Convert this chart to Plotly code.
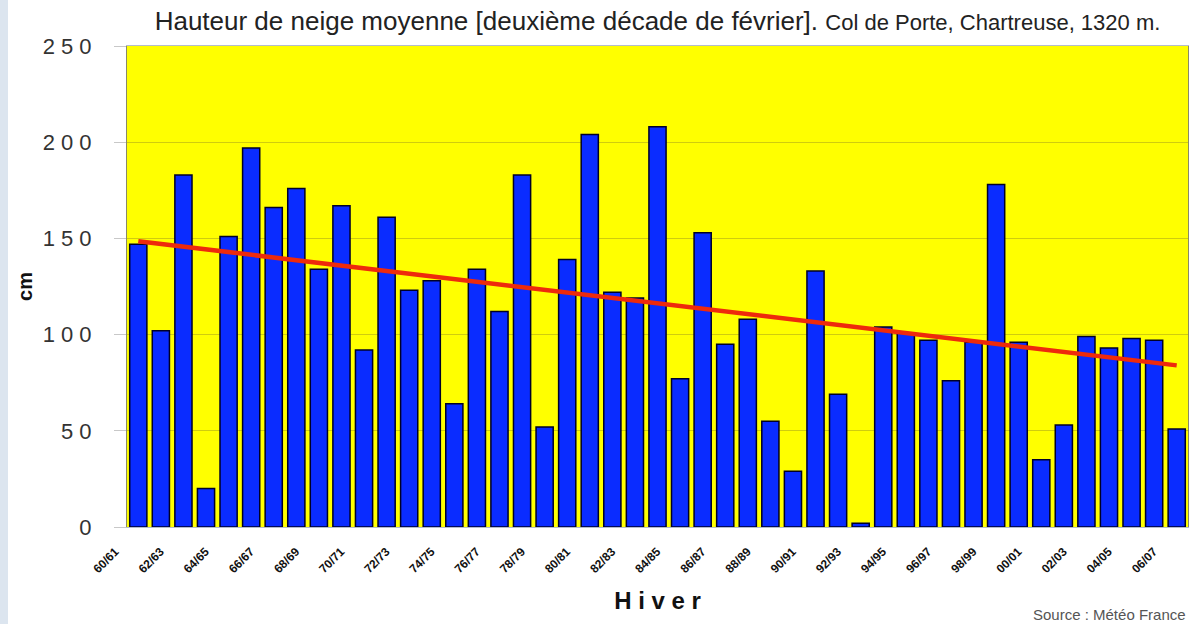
import plotly.graph_objects as go

# ---- data ----
seasons = [
    "60/61", "61/62", "62/63", "63/64", "64/65", "65/66", "66/67", "67/68",
    "68/69", "69/70", "70/71", "71/72", "72/73", "73/74", "74/75", "75/76",
    "76/77", "77/78", "78/79", "79/80", "80/81", "81/82", "82/83", "83/84",
    "84/85", "85/86", "86/87", "87/88", "88/89", "89/90", "90/91", "91/92",
    "92/93", "93/94", "94/95", "95/96", "96/97", "97/98", "98/99", "99/00",
    "00/01", "01/02", "02/03", "03/04", "04/05", "05/06", "06/07",
]
snow_cm = [
    147, 102, 183, 20, 151, 197, 166, 176,
    134, 167, 92, 161, 123, 128, 64, 134,
    112, 183, 52, 139, 204, 122, 119, 208,
    77, 153, 95, 108, 55, 29, 133, 69,
    2, 104, 101, 97, 76, 96, 178, 96,
    35, 53, 99, 93, 98, 97, 51,
]
trend_cm = [148.5, 84.0]          # linear trend, first and last winter
x_tick_labels = seasons[::2]
y_tick_values = [0, 50, 100, 150, 200, 250]

FONT = "Liberation Sans, Arial, Helvetica, sans-serif"

fig = go.Figure()
fig.add_bar(
    x=seasons, y=snow_cm,
    marker=dict(color="#0a2cff", line=dict(color="#000026", width=1.5)),
    hoverinfo="x+y",
)
fig.add_scatter(
    x=[seasons[0], seasons[-1]], y=trend_cm, mode="lines",
    line=dict(color="#ee2a0c", width=4.5), hoverinfo="skip",
)

L, R, T, B = 127, 12, 46, 97
W, H = 1200, 624
pw, ph = W - L - R, H - T - B

fig.update_layout(
    width=W, height=H,
    margin=dict(l=L, r=R, t=T, b=B),
    paper_bgcolor="white",
    plot_bgcolor="#ffff00",
    showlegend=False,
    bargap=0.24,
    font=dict(family=FONT, color="#222"),
    title=dict(
        text="Hauteur de neige moyenne [deuxième décade de février]. "
             "<span style='font-size:22px'>Col de Porte, Chartreuse, 1320 m.</span>",
        font=dict(size=26, color="#222"),
        x=0.5, xanchor="center", xref="paper",
        y=1 - 21 / H, yanchor="middle", yref="container",
    ),
    xaxis=dict(
        type="category",
        tickmode="array", tickvals=x_tick_labels, ticktext=x_tick_labels,
        tickangle=-45,
        tickfont=dict(size=12, color="#111", family=FONT, weight="bold"),
        ticklabelshift=-23,
        ticklabelstandoff=12,
        showgrid=False,
        showline=True, linecolor="#b4bccb", linewidth=1, mirror=True,
        ticks="",
        title=dict(text="H i v e r", font=dict(size=24, color="#111", weight="bold"),
                   standoff=17),
    ),
    yaxis=dict(
        range=[0, 250],
        tickmode="array", tickvals=y_tick_values,
        ticktext=[" ".join(str(v)) for v in y_tick_values],
        tickfont=dict(size=22, color="#333"),
        ticks="outside", ticklen=12, tickcolor="#c8c8c8", tickwidth=1,
        ticklabelstandoff=18,
        showgrid=True, gridcolor="rgba(120,110,40,0.35)", gridwidth=1,
        showline=True, linecolor="#8a8a66", linewidth=1, mirror=True,
        zeroline=False,
        title=dict(text="cm", font=dict(size=20, color="#111", weight="bold"),
                   standoff=4),
    ),
    shapes=[dict(
        type="rect", xref="paper", yref="paper",
        x0=-L / pw, x1=-(L - 8) / pw, y0=-B / ph, y1=1 + T / ph,
        fillcolor="#dce5ef", line=dict(width=0), layer="below",
    )],
    annotations=[dict(
        text="Source : Météo France", xref="paper", yref="paper",
        x=1, y=-(614 - (H - B)) / ph, xanchor="right", yanchor="middle",
        showarrow=False, font=dict(size=15, color="#555"),
    )],
)

fig.write_html("out.html", config={"displayModeBar": False},
               post_script="document.body.style.margin='0px';")
